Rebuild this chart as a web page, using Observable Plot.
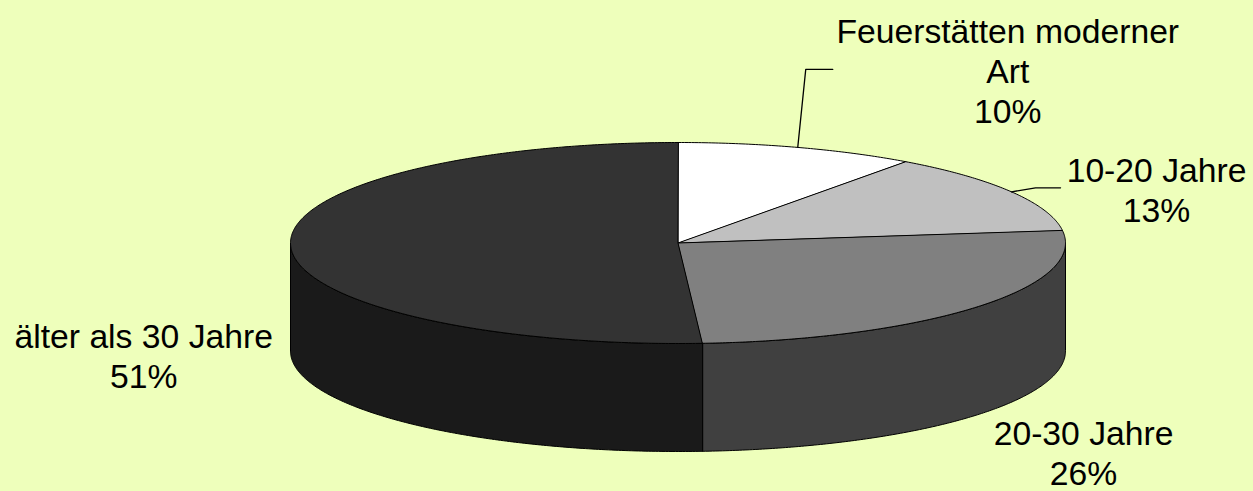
<!DOCTYPE html>
<html><head><meta charset="utf-8">
<script src="https://cdn.jsdelivr.net/npm/d3@7"></script>
<script src="https://cdn.jsdelivr.net/npm/@observablehq/plot@0.6"></script>
<style>html,body{margin:0;padding:0;background:#eeffbb;overflow:hidden}</style>
</head><body><div id="chart"></div>
<script>
// ---- data ----
const categories = ["Feuerstätten moderner Art", "10-20 Jahre", "20-30 Jahre", "älter als 30 Jahre"];
const shares = [10, 13, 26, 51];

// ---- styles / layout ----
const topColors = ["#ffffff", "#c0c0c0", "#808080", "#333333"];
const sideColors = ["#e0e0e0", "#606060", "#404040", "#1a1a1a"];
const labelOffsets = [[210, -77], [145, -3], [107, 145], [-147, 109]];
const leaderOffsets = [[[0, 0], [8, -78], [35, -78]], [[0, 0], [24, -4], [49, -4]], null, null];
const W = 1253, H = 491;
const CX = 677.5, CY = 242.5, RX = 387.5, RY = 100.5, DEPTH = 108;

const deg = Math.PI / 180;
const pt = (a, h) => ({x: CX + RX * Math.sin(a * deg), y: CY - RY * Math.cos(a * deg) + h});
const arc = (a0, a1, h) => {
  const n = Math.max(2, Math.ceil(Math.abs(a1 - a0) / 0.5));
  return d3.range(n + 1).map(i => pt(a0 + (a1 - a0) * i / n, h));
};

let cum = 0;
const slices = categories.map((c, i) => {
  const a0 = cum * 3.6; cum += shares[i]; const a1 = cum * 3.6;
  return {i, c, share: shares[i], a0, a1, mid: (a0 + a1) / 2};
});

const sides = slices.flatMap(s => {
  const lo = Math.max(s.a0, 90), hi = Math.min(s.a1, 270);
  if (hi <= lo) return [];
  return [{i: s.i, pts: [...arc(lo, hi, 0), ...arc(hi, lo, DEPTH)]}];
});
const tops = slices.map(s => ({i: s.i, pts: [{x: CX, y: CY}, ...arc(s.a0, s.a1, 0)]}));

const leaders = slices.filter(s => leaderOffsets[s.i]).map(s => {
  const e = pt(s.mid, 0);
  return leaderOffsets[s.i].map(([dx, dy]) => ({x: e.x + dx, y: e.y + dy}));
});

const labelText = s => s.c.replace("moderner ", "moderner\n") + "\n" + s.share + "%";

const polyOpts = (fill) => ({x: "x", y: "y", fill, stroke: "#000", strokeWidth: 1, curve: "linear-closed", strokeLinejoin: "round"});

const chart = Plot.plot({
  width: W, height: H, margin: 0,
  x: {domain: [0, W], range: [0, W], axis: null},
  y: {domain: [0, H], range: [0, H], axis: null},
  style: {background: "#eeffbb", overflow: "visible"},
  marks: [
    ...sides.map(p => Plot.line(p.pts, polyOpts(sideColors[p.i]))),
    ...tops.map(p => Plot.line(p.pts, polyOpts(topColors[p.i]))),
    ...leaders.map(l => Plot.line(l, {x: "x", y: "y", stroke: "#000", strokeWidth: 1.3})),
    Plot.text(slices, {
      x: s => pt(s.mid, 0).x + labelOffsets[s.i][0],
      y: s => pt(s.mid, 0).y + labelOffsets[s.i][1],
      text: labelText,
      fontSize: 33.7,
      fontFamily: "Liberation Sans, Arial, sans-serif",
      lineHeight: 40 / 33.7,
      textAnchor: "middle",
      lineAnchor: "middle",
      fill: "#000"
    })
  ]
});
document.getElementById("chart").append(chart);
</script>
</body></html>
